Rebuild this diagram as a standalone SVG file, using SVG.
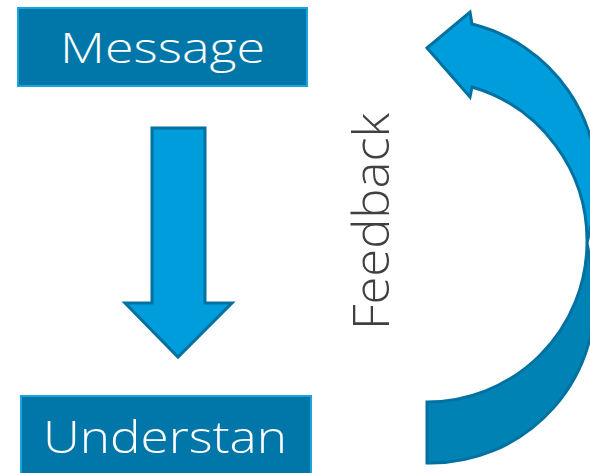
<svg xmlns="http://www.w3.org/2000/svg" width="590" height="473" viewBox="0 0 590 473">
<style>
.box{fill:#0077a8;stroke:#1ba3dd;stroke-width:2}
.lbl{fill:#ffffff;font-family:"Open Sans","Liberation Sans",sans-serif;font-weight:300;text-anchor:middle}
.arr{stroke:#0071a1;stroke-width:3;stroke-linejoin:miter}
.light{fill:#009ddc}
.dark{fill:#0082b5}
.fb{fill:#404040;font-family:"Open Sans","Liberation Sans",sans-serif;font-weight:300;text-anchor:middle}
</style>
<rect width="590" height="473" fill="#ffffff"/>
<g id="message">
<rect class="box" x="18" y="8" width="289" height="78"/>
<text class="lbl" x="162.5" y="63" font-size="43" textLength="205" lengthAdjust="spacingAndGlyphs">Message</text>
</g>
<g id="understan">
<rect class="box" x="21" y="396" width="290" height="90"/>
<text class="lbl" x="165" y="453" font-size="45" textLength="244" lengthAdjust="spacingAndGlyphs">Understan</text>
</g>
<g id="feedback-label">
<text class="fb" transform="translate(389,221.5) rotate(-90)" x="0" y="0" font-size="49" textLength="217" lengthAdjust="spacingAndGlyphs">Feedback</text>
</g>
<g id="connectors">
<polygon class="arr light" points="152,128 205,128 205,303 232,303 178,357 125,303 152,303"/>
<path class="arr dark" d="M427,402 A160,160 0 0 0 587,243 L593,275 A164,164 0 0 1 427,463 Z"/>
<path class="arr light" d="M470,12 L472,24 A165,165 0 0 1 596,205 L587,243 A160,160 0 0 0 472,87 L470,97 L427,48 Z"/>
</g>
</svg>
